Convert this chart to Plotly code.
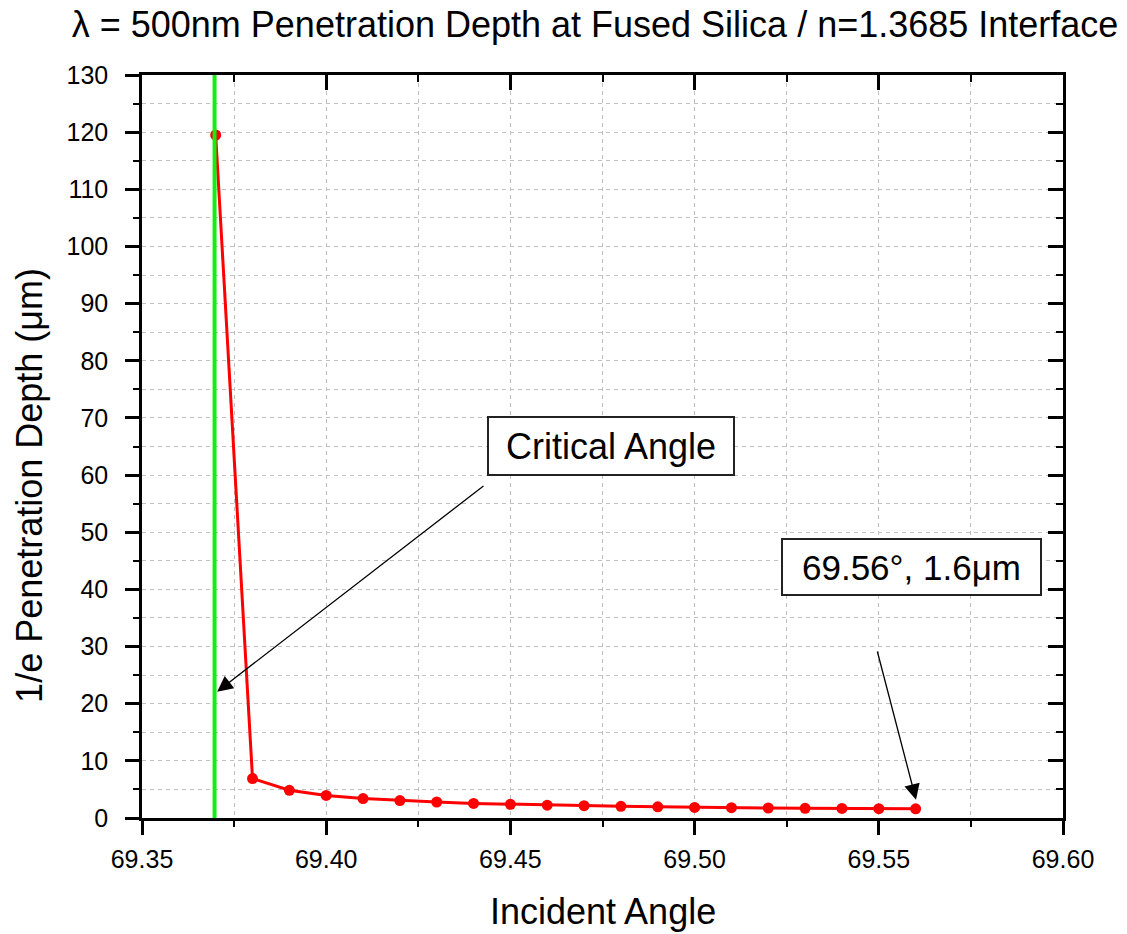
import plotly.graph_objects as go

# ---- data ----
angles = [69.37, 69.38, 69.39, 69.40, 69.41, 69.42, 69.43, 69.44, 69.45, 69.46,
          69.47, 69.48, 69.49, 69.50, 69.51, 69.52, 69.53, 69.54, 69.55, 69.56]
depth = [119.5, 6.9, 4.85, 3.95, 3.4, 3.05, 2.8, 2.55, 2.4, 2.25,
         2.15, 2.05, 1.95, 1.85, 1.8, 1.75, 1.7, 1.67, 1.63, 1.6]
critical_angle = 69.3697
x_range = [69.35, 69.60]
y_range = [0, 130]

title_text = "λ = 500nm Penetration Depth at Fused Silica / n=1.3685 Interface"
x_title = "Incident Angle"
y_title = "1/e Penetration Depth (μm)"
label_critical = "Critical Angle"
label_end = "69.56°, 1.6μm"

FONT = "Liberation Sans, Arial, sans-serif"

fig = go.Figure()
fig.add_trace(go.Scatter(
    x=angles, y=depth, mode="lines+markers",
    line=dict(color="#ff0000", width=3),
    marker=dict(color="#ff0000", size=11, symbol="circle"),
    showlegend=False, cliponaxis=False))
fig.add_trace(go.Scatter(
    x=[critical_angle, critical_angle], y=y_range, mode="lines",
    line=dict(color="#14ee14", width=4), showlegend=False))

grid_common = dict(gridcolor="#c0c0c0", gridwidth=1, griddash="4px,4px")

fig.update_layout(
    width=1127, height=934,
    margin=dict(l=142, r=64, t=75, b=116),
    paper_bgcolor="white", plot_bgcolor="white",
    font=dict(family=FONT, color="black"),
    title=dict(text=title_text, x=0.528, xref="container", xanchor="center",
               y=1 - 24 / 934, yref="container", yanchor="middle",
               font=dict(size=36, family=FONT, color="black")),
    xaxis=dict(range=x_range, dtick=0.05, tick0=69.35, tickformat=".2f",
               showline=True, linecolor="black", linewidth=2.5, mirror=True,
               ticks="outside", ticklen=14, tickwidth=2.5, tickcolor="black",
               tickfont=dict(size=25, family=FONT), ticklabelstandoff=3,
               showgrid=True, zeroline=False, **grid_common,
               minor=dict(dtick=0.025, tick0=69.35, ticks="outside", ticklen=6,
                          tickwidth=2, tickcolor="black", showgrid=True, **grid_common)),
    yaxis=dict(range=y_range, dtick=10, tick0=0,
               showline=True, linecolor="black", linewidth=2.5, mirror=True,
               ticks="outside", ticklen=14, tickwidth=2.5, tickcolor="black",
               tickfont=dict(size=25, family=FONT), ticklabelstandoff=12,
               showgrid=True, zeroline=False, **grid_common,
               minor=dict(dtick=5, tick0=0, ticks="outside", ticklen=6,
                          tickwidth=2, tickcolor="black", showgrid=True, **grid_common)),
    xaxis2=dict(range=x_range, overlaying="x", side="top", dtick=0.05, tick0=69.35,
                ticks="inside", ticklen=15, tickwidth=2.5, tickcolor="black",
                showticklabels=False, showgrid=False, showline=False, zeroline=False,
                minor=dict(dtick=0.025, tick0=69.35, ticks="inside", ticklen=7,
                           tickwidth=2, tickcolor="black", showgrid=False)),
    yaxis2=dict(range=y_range, overlaying="y", side="right", dtick=10, tick0=0,
                ticks="inside", ticklen=15, tickwidth=2.5, tickcolor="black",
                showticklabels=False, showgrid=False, showline=False, zeroline=False,
                minor=dict(dtick=5, tick0=0, ticks="inside", ticklen=7,
                           tickwidth=2, tickcolor="black", showgrid=False)),
)

# invisible trace to anchor the mirrored (top/right) tick axes
fig.add_trace(go.Scatter(x=x_range, y=y_range, xaxis="x2", yaxis="y2",
                         mode="markers", marker=dict(opacity=0),
                         showlegend=False, hoverinfo="skip"))

annotations = [
    # axis titles
    dict(text=x_title, xref="paper", yref="paper", x=0.5005, y=-0.1265,
         xanchor="center", yanchor="middle", showarrow=False,
         font=dict(size=36, family=FONT)),
    dict(text=y_title, xref="paper", yref="paper", x=-0.1216, y=0.447,
         xanchor="center", yanchor="middle", showarrow=False, textangle=-90,
         font=dict(size=36, family=FONT)),
    # arrows
    dict(text="", x=69.3704, y=22.1, ax=69.4431, ay=58.3, xref="x", yref="y",
         axref="x", ayref="y", showarrow=True, arrowhead=2, arrowsize=2.4,
         arrowwidth=1.3, arrowcolor="black", standoff=0, startstandoff=0),
    dict(text="", x=69.5601, y=3.2, ax=69.5495, ay=29.4, xref="x", yref="y",
         axref="x", ayref="y", showarrow=True, arrowhead=2, arrowsize=2.4,
         arrowwidth=1.3, arrowcolor="black", standoff=0, startstandoff=0),
    # label boxes
    dict(text=label_critical, x=69.4773, y=65.1, xref="x", yref="y",
         xanchor="center", yanchor="middle", showarrow=False,
         bgcolor="white", bordercolor="#222222", borderwidth=2, borderpad=7,
         width=230, height=42, font=dict(size=36, family=FONT)),
    dict(text=label_end, x=69.5589, y=43.95, xref="x", yref="y",
         xanchor="center", yanchor="middle", showarrow=False,
         bgcolor="white", bordercolor="#222222", borderwidth=2, borderpad=7,
         width=243, height=40, font=dict(size=35, family=FONT)),
]
fig.update_layout(annotations=annotations)

fig.write_html("out.html")
